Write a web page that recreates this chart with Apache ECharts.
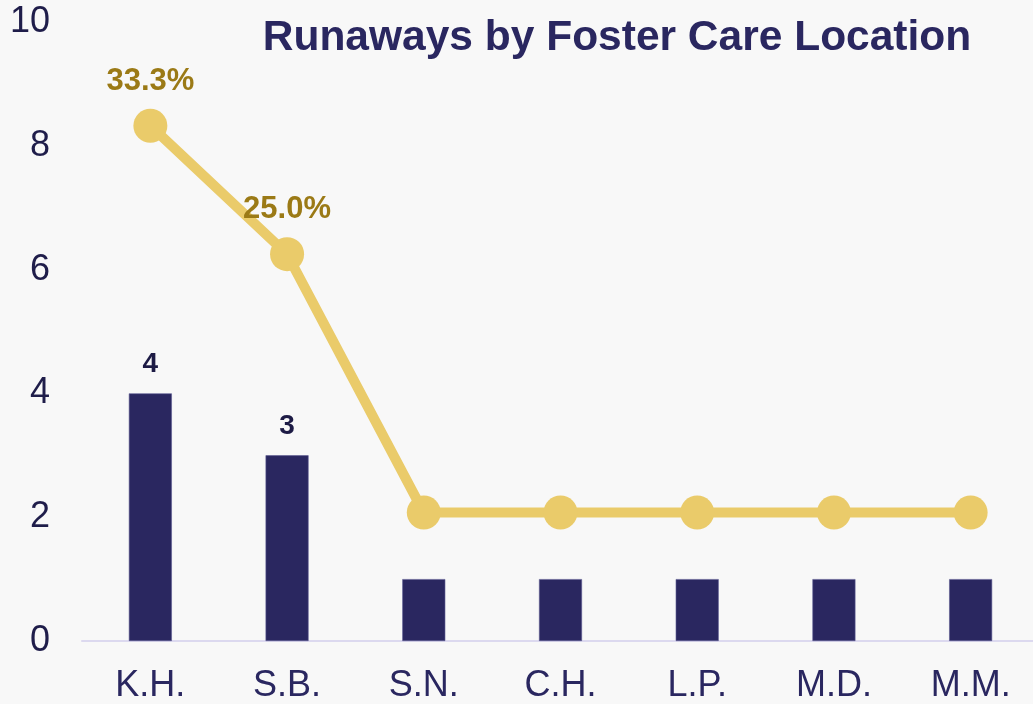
<!DOCTYPE html>
<html>
<head>
<meta charset="utf-8">
<script src="https://cdn.jsdelivr.net/npm/echarts@6/dist/echarts.min.js"></script>
<style>
  html, body { margin: 0; padding: 0; background: #f8f8f8; }
  #chart { width: 1033px; height: 704px; }
</style>
</head>
<body>
<div id="chart"></div>
<script>
// data
var categories = ['K.H.', 'S.B.', 'S.N.', 'C.H.', 'L.P.', 'M.D.', 'M.M.']
var runaways = [4, 3, 1, 1, 1, 1, 1]
var percentShare = [33.3, 25.0, 8.3, 8.3, 8.3, 8.3, 8.3]
var countTicks = [0, 2, 4, 6, 8, 10]
var labelledPoints = 2 // only the first two bars / points carry labels

var myChart = echarts.init(document.getElementById('chart'))
myChart.setOption({
  backgroundColor: '#f8f8f8',
  textStyle: { fontFamily: 'Liberation Sans, Arial, sans-serif' },
  title: {
    text: 'Runaways by Foster Care Location',
    left: 612,
    top: 12,
    textAlign: 'center',
    textStyle: { color: '#2a2760', fontSize: 42.5, fontWeight: 'bold' }
  },
  // plot runs slightly past the right edge, like the original
  grid: {
    left: 82, width: 957, top: 22, bottom: 63,
    containLabel: false, outerBoundsMode: 'none'
  },
  xAxis: {
    type: 'category',
    data: categories,
    axisLine: { lineStyle: { color: '#dcd9ef', width: 2 } },
    axisTick: { show: false },
    axisLabel: { color: '#2a2760', fontSize: 36, margin: 27 }
  },
  yAxis: [
    {
      type: 'value',
      min: countTicks[0],
      max: countTicks[countTicks.length - 1],
      interval: 2,
      splitLine: { show: false },
      axisLine: { show: false },
      axisTick: { show: false },
      axisLabel: { color: '#1f1d4a', fontSize: 36, margin: 32 }
    },
    {
      type: 'value',
      min: 0,
      max: 40,
      show: false,
      splitLine: { show: false }
    }
  ],
  series: [
    {
      name: 'Runaways',
      type: 'bar',
      data: runaways.map(function (v, i) {
        return { value: v, label: { show: i < labelledPoints } }
      }),
      barWidth: 43,
      itemStyle: { color: '#2a2760', borderColor: '#5d5a92', borderWidth: 0.6 },
      label: {
        position: 'top',
        distance: 15,
        color: '#1d1b45',
        fontSize: 28,
        fontWeight: 'bold'
      }
    },
    {
      name: 'Share',
      type: 'line',
      yAxisIndex: 1,
      data: percentShare.map(function (v, i) {
        return { value: v, label: { show: i < labelledPoints } }
      }),
      symbol: 'circle',
      symbolSize: 34,
      color: '#eacb6a',
      lineStyle: { color: '#eacb6a', width: 10 },
      label: {
        position: 'top',
        distance: 12,
        formatter: function (p) { return p.value.toFixed(1) + '%' },
        color: '#9b7a16',
        fontSize: 31,
        fontWeight: 'bold'
      },
      z: 3
    }
  ]
})
</script>
</body>
</html>
